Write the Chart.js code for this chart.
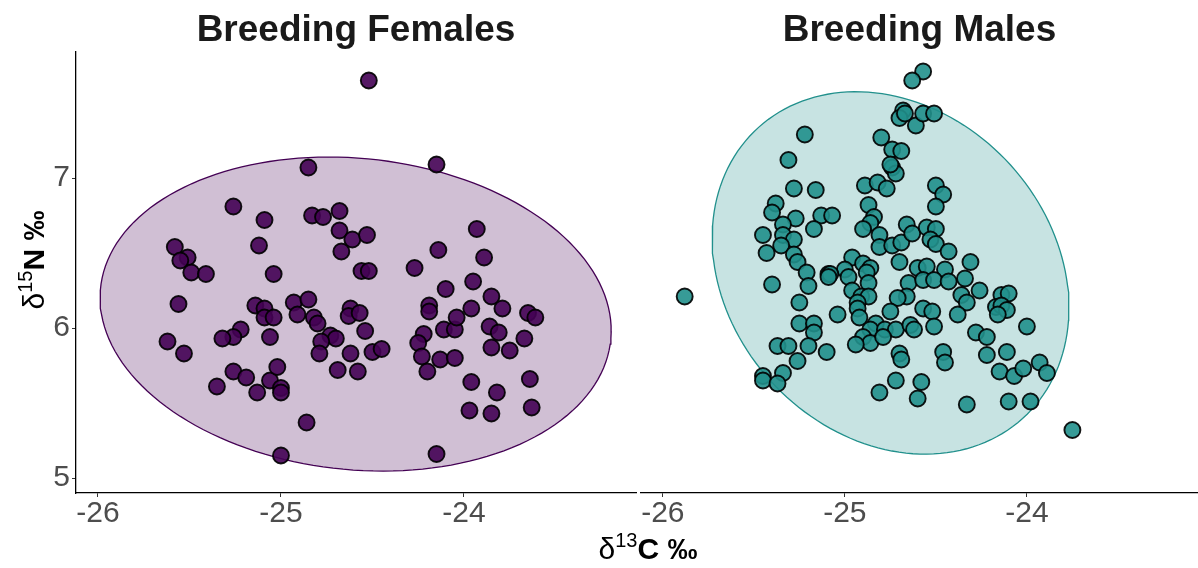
<!DOCTYPE html>
<html>
<head>
<meta charset="utf-8">
<script src="https://cdn.jsdelivr.net/npm/chart.js@4.4.1/dist/chart.umd.min.js"></script>
<style>
  html, body { margin: 0; padding: 0; background: #ffffff; }
  #wrap { position: relative; width: 1198px; height: 568px; overflow: hidden; background: #ffffff;
          font-family: "Liberation Sans", Arial, Helvetica, sans-serif; }
  canvas { position: absolute; top: 0; }
  .panel-title { position: absolute; top: 7px; font-size: 37px; line-height: 44px; font-weight: bold;
                 color: #1a1a1a; text-align: center; white-space: nowrap; }
  .axis-title { position: absolute; font-size: 30px; line-height: 36px; color: #000; text-align: center;
                white-space: nowrap; }
  .axis-title sup { font-size: 20px; vertical-align: 0; position: relative; top: -12px; }
  .axis-title b { font-weight: bold; }
</style>
</head>
<body>
<div id="wrap">
  <canvas id="femaleChart" width="640" height="568" style="left:0px"></canvas>
  <canvas id="maleChart" width="598" height="568" style="left:600px"></canvas>
  <div class="panel-title" style="left:76px;width:560px">Breeding Females</div>
  <div class="panel-title" style="left:641px;width:557px">Breeding Males</div>
  <div class="axis-title" style="left:548px;top:531px;width:200px">δ<sup>13</sup><b>C ‰</b></div>
  <div class="axis-title" style="left:-66px;top:242px;width:200px;height:36px;transform:rotate(-90deg)">δ<sup>15</sup><b>N ‰</b></div>
</div>
<script>
// Axis ticks and ranges (shared by both facets)
const xTicks = [-26, -25, -24];
const yTicks = [5, 6, 7];
const xRange = [-26.12, -23.06];
const yRange = [4.9, 7.84];

// Breeding females: δ13C and δ15N
const femaleC13 = [
  -24.52, -24.85, -24.15, -25.26, -25.09, -24.83, -24.77, -24.68, -24.68, -24.61,
  -24.53, -24.67, -24.56, -24.52, -25.58, -25.51, -25.55, -25.49, -25.41, -25.12,
  -25.04, -25.56, -25.14, -25.09, -25.09, -25.04, -25.22, -25.26, -25.32, -25.06,
  -25.62, -25.53, -25.26, -25.19, -25.35, -25.06, -25.13, -25.02, -25.00, -25.00,
  -25.00, -24.93, -24.85, -24.91, -24.82, -24.80, -24.62, -24.63, -24.57, -24.54,
  -24.73, -24.70, -24.78, -24.79, -24.62, -24.50, -24.45, -24.69, -24.58, -24.86,
  -24.14, -24.27, -24.10, -24.19, -24.19, -24.11, -24.05, -24.04, -24.22, -24.25,
  -24.23, -24.13, -24.05, -24.20, -24.15, -23.93, -23.89, -23.95, -23.85, -23.79,
  -23.96, -23.65, -23.61, -23.86, -23.81, -23.67, -23.85, -23.75, -23.96, -23.82,
  -23.64, -23.97, -23.85, -23.63
];
const femaleN15 = [
  7.65, 7.07, 7.09, 6.81, 6.72, 6.75, 6.74, 6.78, 6.65, 6.59,
  6.62, 6.51, 6.38, 6.38, 6.54, 6.47, 6.45, 6.37, 6.36, 6.55,
  6.36, 6.16, 6.15, 6.13, 6.07, 6.07, 5.99, 5.94, 5.93, 5.94,
  5.91, 5.83, 5.71, 5.67, 5.61, 5.65, 5.57, 5.74, 5.60, 5.57,
  5.15, 6.17, 6.19, 6.09, 6.07, 6.03, 6.13, 6.08, 6.10, 5.98,
  5.95, 5.93, 5.91, 5.83, 5.83, 5.84, 5.86, 5.72, 5.71, 5.37,
  6.52, 6.40, 6.26, 6.15, 6.11, 5.99, 5.99, 6.07, 5.96, 5.90,
  5.81, 5.79, 5.80, 5.71, 5.16, 6.66, 6.47, 6.31, 6.21, 6.13,
  6.13, 6.10, 6.07, 6.01, 5.97, 5.93, 5.87, 5.85, 5.64, 5.57,
  5.66, 5.45, 5.43, 5.47
];

// Breeding males: δ13C and δ15N
const maleC13 = [
  -25.22, -25.31, -25.28, -25.16, -25.38, -25.40, -25.27, -25.34, -25.13, -25.07,
  -25.17, -25.45, -25.34, -25.28, -25.35, -25.43, -25.28, -25.26, -25.21, -25.09,
  -25.20, -25.40, -25.88, -25.25, -25.04, -25.25, -25.17, -25.17, -25.37, -25.31,
  -25.20, -25.10, -25.26, -25.45, -25.45, -25.34, -25.37,
  -24.57, -24.63, -24.68, -24.70, -24.67, -24.61, -24.57, -24.51, -24.80, -24.74,
  -24.69, -24.74, -24.72, -24.75, -24.89, -24.82, -24.77, -24.50, -24.46, -24.50,
  -24.87, -24.84, -24.86, -24.90, -24.81, -24.81, -24.74, -24.69, -24.66, -24.63,
  -24.55, -24.50, -24.53, -24.50, -24.43, -24.70, -24.96, -24.90, -24.86, -24.88,
  -25.00, -25.08, -25.09, -24.98, -24.87, -24.96, -24.91, -24.87, -24.93, -24.93,
  -24.60, -24.55, -24.45, -24.31, -24.65, -24.57, -24.51, -24.43, -24.34, -24.26,
  -24.66, -24.71, -24.75, -24.57, -24.52, -24.36, -24.33, -24.38, -24.92, -24.83,
  -24.86, -24.78, -24.72, -24.64, -24.62, -24.51, -24.90, -24.86, -24.79, -24.94,
  -24.70, -24.69, -24.46, -24.45, -24.28, -24.22, -24.22, -24.15, -24.72, -24.58,
  -24.81, -24.60, -24.33, -24.14, -24.10, -24.17, -24.14, -24.11, -24.16, -24.00,
  -24.11, -24.07, -24.02, -23.93, -23.89, -24.10, -23.98, -23.75
];
const maleN15 = [
  7.29, 7.12, 6.93, 6.92, 6.83, 6.77, 6.73, 6.69, 6.75, 6.75,
  6.66, 6.62, 6.62, 6.59, 6.55, 6.50, 6.49, 6.44, 6.37, 6.36,
  6.28, 6.29, 6.21, 6.17, 6.09, 6.03, 6.03, 5.97, 5.88, 5.88,
  5.88, 5.84, 5.78, 5.68, 5.65, 5.70, 5.63,
  7.71, 7.65, 7.45, 7.40, 7.43, 7.35, 7.43, 7.43, 7.27, 7.19,
  7.18, 7.07, 7.03, 7.09, 6.95, 6.97, 6.93, 6.95, 6.89, 6.81,
  6.82, 6.74, 6.70, 6.66, 6.62, 6.54, 6.55, 6.57, 6.69, 6.63,
  6.67, 6.66, 6.59, 6.56, 6.51, 6.44, 6.47, 6.43, 6.40, 6.37,
  6.39, 6.36, 6.34, 6.34, 6.30, 6.25, 6.21, 6.21, 6.17, 6.13,
  6.40, 6.41, 6.39, 6.44, 6.30, 6.32, 6.32, 6.31, 6.33, 6.25,
  6.21, 6.20, 6.11, 6.13, 6.11, 6.22, 6.17, 6.09, 6.07, 6.03,
  5.99, 5.99, 5.99, 6.02, 5.99, 6.01, 5.94, 5.90, 5.94, 5.89,
  5.83, 5.79, 5.84, 5.77, 5.97, 5.94, 5.82, 5.71, 5.65, 5.64,
  5.57, 5.53, 5.49, 6.22, 6.23, 6.14, 6.15, 6.12, 6.09, 6.01,
  5.84, 5.68, 5.73, 5.77, 5.70, 5.51, 5.51, 5.32
];

// 95% ellipses: centre (δ13C, δ15N), semi-axes and rotation in degrees
const femaleEllipse = { center: [-24.592, 6.093], radii: [1.406, 1.034], angle: -9.87 };
const maleEllipse   = { center: [-24.749, 6.367], radii: [1.2446, 0.9332], angle: 111.3 };

const FONT = '"Liberation Sans", Arial, Helvetica, sans-serif';

function ellipsePath(e, n) {
  const pts = [];
  const a = e.angle * Math.PI / 180;
  for (let i = 0; i <= n; i++) {
    const t = 2 * Math.PI * i / n;
    const u = e.radii[0] * Math.cos(t);
    const v = e.radii[1] * Math.sin(t);
    pts.push({ x: e.center[0] + u * Math.cos(a) - v * Math.sin(a),
               y: e.center[1] + u * Math.sin(a) + v * Math.cos(a) });
  }
  return pts;
}

function axisCommon(ticks, pad) {
  return {
    type: 'linear',
    afterBuildTicks: s => { s.ticks = ticks.map(v => ({ value: v })); },
    ticks: { font: { size: 30, family: FONT }, color: '#4d4d4d', padding: pad,
             autoSkip: false, maxRotation: 0, callback: v => String(v) },
    grid: { display: true, drawOnChartArea: false, drawTicks: true, tickLength: 4,
            color: '#333333', lineWidth: 1 },
    border: { display: true, color: '#000000', width: 1.3 }
  };
}

function makeChart(id, xs, ys, ell, fillPt, lineCol, fillEll, showY, padLeft, padRight) {
  const x = Object.assign(axisCommon(xTicks, -1), {
    min: xRange[0], max: xRange[1],
    afterFit: s => { s.height = 75; }
  });
  const y = Object.assign(axisCommon(yTicks, 2), {
    min: yRange[0], max: yRange[1], display: showY,
    afterFit: s => { s.width = showY ? 76 : 0; }
  });
  return new Chart(document.getElementById(id), {
    type: 'scatter',
    data: {
      datasets: [
        {
          data: xs.map((v, i) => ({ x: v, y: ys[i] })),
          pointRadius: 8, pointHoverRadius: 8,
          backgroundColor: fillPt, borderColor: 'rgba(0,0,0,0.9)', borderWidth: 1.9,
          order: 0
        },
        {
          type: 'line',
          data: ellipsePath(ell, 160),
          showLine: true, fill: 'shape', tension: 0,
          borderColor: lineCol, borderWidth: 1.3, backgroundColor: fillEll,
          pointRadius: 0, pointHoverRadius: 0,
          order: 1
        }
      ]
    },
    options: {
      responsive: false, animation: false, devicePixelRatio: 1,
      layout: { autoPadding: false, padding: { left: padLeft, right: padRight, top: 52, bottom: 0 } },
      plugins: { legend: { display: false }, tooltip: { enabled: false }, title: { display: false } },
      events: [],
      scales: { x: x, y: y }
    }
  });
}

makeChart('femaleChart', femaleC13, femaleN15, femaleEllipse,
          'rgba(68,1,84,0.9)', '#440154', 'rgba(68,1,84,0.25)', true, 0, 4);
makeChart('maleChart', maleC13, maleN15, maleEllipse,
          'rgba(33,144,140,0.9)', '#21908c', 'rgba(33,144,140,0.25)', false, 41, 0);
</script>
</body>
</html>
